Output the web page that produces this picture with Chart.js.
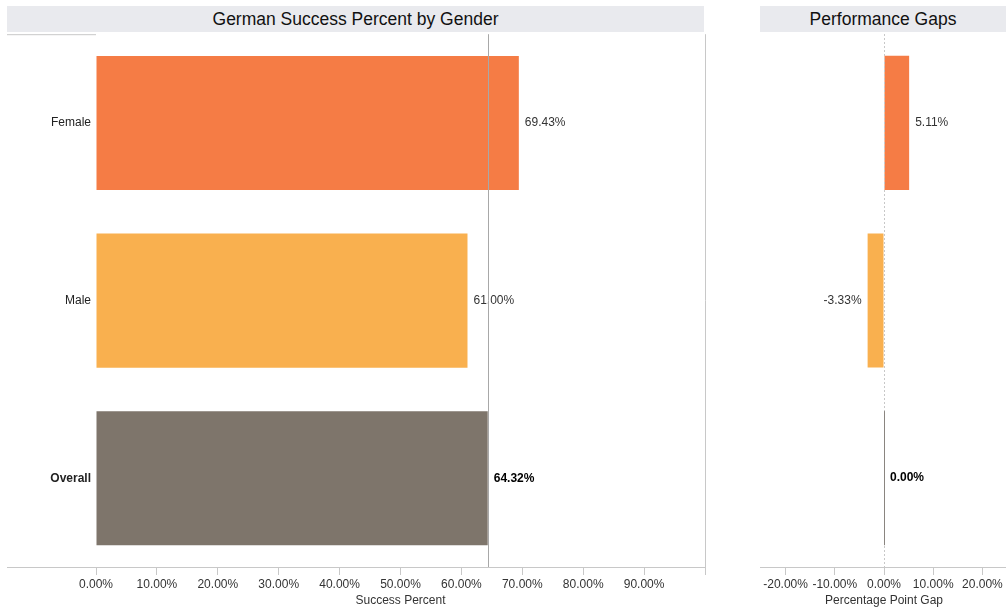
<!DOCTYPE html>
<html>
<head>
<meta charset="utf-8">
<script src="https://cdn.jsdelivr.net/npm/chart.js@4"></script>
<style>
  body { margin: 0; background: #fff; font-family: "Liberation Sans", Arial, sans-serif; overflow: hidden; }
  .band { position: absolute; top: 6px; height: 26px; line-height: 26px; background: #e9eaee;
          text-align: center; font-size: 17.5px; color: #111; }
  .wrap { position: absolute; }
</style>
</head>
<body>
<div class="band" style="left:7px;width:697px;">German Success Percent by Gender</div>
<div class="band" style="left:760px;width:246px;">Performance Gaps</div>
<div class="wrap" style="left:0;top:22px;width:712px;height:589px;"><canvas id="success"></canvas></div>
<div class="wrap" style="left:721px;top:34px;width:286px;height:577px;"><canvas id="gaps"></canvas></div>
<script>
const categories = ['Female', 'Male', 'Overall'];
const successPct = [69.43, 61.00, 64.32];
const gapPct = [5.11, -3.33, 0.00];
const successTicks = [0, 10, 20, 30, 40, 50, 60, 70, 80, 90, 100];
const gapTicks = [-20, -10, 0, 10, 20];
const barColors = ['#f57c45', '#f9b04f', '#7e756b'];

Chart.defaults.font.family = '"Liberation Sans", Arial, sans-serif';
Chart.defaults.font.size = 12;
Chart.defaults.color = '#333';

const fmt = v => v.toFixed(2) + '%';
const tickFont = ctx => ctx.index === 2 ? { weight: 'bold' } : { weight: 'normal' };

function xAxis(min, max, tickList, title, hideLast) {
    return {
        type: 'linear', min: min, max: max,
        afterBuildTicks: s => { s.ticks = tickList.map(v => ({ value: v })); },
        afterFit: s => { s.height = 44; },
        ticks: {
            padding: 2,
            callback: v => (hideLast && v === max) ? '' : fmt(v),
            maxRotation: 0, autoSkip: false
        },
        grid: { drawOnChartArea: false, tickLength: 8, color: '#c8c8c8' },
        border: { display: false },
        title: { display: true, text: title, padding: { top: 0, bottom: 3 }, color: '#333' }
    };
}

// labels, reference lines and frame lines
const extras = {
    id: 'extras',
    afterDatasetsDraw(chart, args, opts) {
        const c = chart.ctx, a = chart.chartArea;
        const meta = chart.getDatasetMeta(0);
        const vals = chart.data.datasets[0].data;
        c.save();
        c.textBaseline = 'middle';
        meta.data.forEach((bar, i) => {
            c.font = (i === 2 ? 'bold ' : '') + '12px "Liberation Sans", Arial, sans-serif';
            c.fillStyle = i === 2 ? '#000' : '#333';
            if (vals[i] < 0) {
                c.textAlign = 'right';
                c.fillText(fmt(vals[i]), bar.x - 6, bar.y);
            } else {
                c.textAlign = 'left';
                c.fillText(fmt(vals[i]), bar.x + 6, bar.y);
            }
        });
        const xs = chart.scales.x;
        c.lineWidth = 1;
        if (opts.refValue !== undefined) {
            const rx = Math.round(xs.getPixelForValue(opts.refValue)) + 0.5;
            c.strokeStyle = '#a8a8a8';
            c.beginPath(); c.moveTo(rx, a.top); c.lineTo(rx, a.bottom); c.stroke();
        }
        if (opts.zeroLine) {
            const zx = Math.round(xs.getPixelForValue(0)) + 0.5;
            c.strokeStyle = '#c8c8c8';
            c.setLineDash([2, 2]);
            c.beginPath(); c.moveTo(zx, a.top); c.lineTo(zx, a.bottom); c.stroke();
            c.setLineDash([]);
            const ob = meta.data[2];
            c.strokeStyle = '#8a8580';
            c.beginPath(); c.moveTo(zx, ob.y - ob.height / 2); c.lineTo(zx, ob.y + ob.height / 2); c.stroke();
        }
        // frame
        c.strokeStyle = '#c8c8c8';
        c.beginPath();
        c.moveTo(opts.frameLeft, a.bottom + 0.5); c.lineTo(a.right, a.bottom + 0.5);
        if (opts.rightBorder) {
            c.moveTo(a.right + 0.5, a.top); c.lineTo(a.right + 0.5, a.bottom);
        }
        if (opts.headerLine) {
            c.moveTo(opts.frameLeft, a.top + 0.5); c.lineTo(a.left, a.top + 0.5);
        }
        c.stroke();
        c.restore();
    }
};

new Chart(document.getElementById('success'), {
    type: 'bar',
    data: {
        labels: categories,
        datasets: [{ data: successPct, backgroundColor: barColors, barPercentage: 0.755, categoryPercentage: 1 }]
    },
    options: {
        indexAxis: 'y', responsive: true, maintainAspectRatio: false, animation: false,
        layout: { padding: { left: 7, right: 7, top: 0, bottom: 0 } },
        plugins: {
            legend: { display: false }, tooltip: { enabled: false },
            extras: { refValue: successPct[2], frameLeft: 7, rightBorder: true, headerLine: true }
        },
        scales: {
            x: xAxis(0, 100, successTicks, 'Success Percent', true),
            y: {
                afterFit: s => { s.width = 89; },
                ticks: { font: tickFont, color: '#222', padding: 5 },
                grid: { display: false, tickLength: 0 }, border: { display: false }
            }
        }
    },
    plugins: [extras]
});

new Chart(document.getElementById('gaps'), {
    type: 'bar',
    data: {
        labels: categories,
        datasets: [{ data: gapPct, backgroundColor: barColors, barPercentage: 0.755, categoryPercentage: 1 }]
    },
    options: {
        indexAxis: 'y', responsive: true, maintainAspectRatio: false, animation: false,
        layout: { padding: 0 },
        plugins: {
            legend: { display: false }, tooltip: { enabled: false },
            extras: { zeroLine: true, frameLeft: 39 }
        },
        scales: {
            x: xAxis(-25, 25, gapTicks, 'Percentage Point Gap', false),
            y: {
                afterFit: s => { s.width = 40; },
                ticks: { display: false },
                grid: { display: false }, border: { display: false }
            }
        }
    },
    plugins: [extras]
});
</script>
</body>
</html>
